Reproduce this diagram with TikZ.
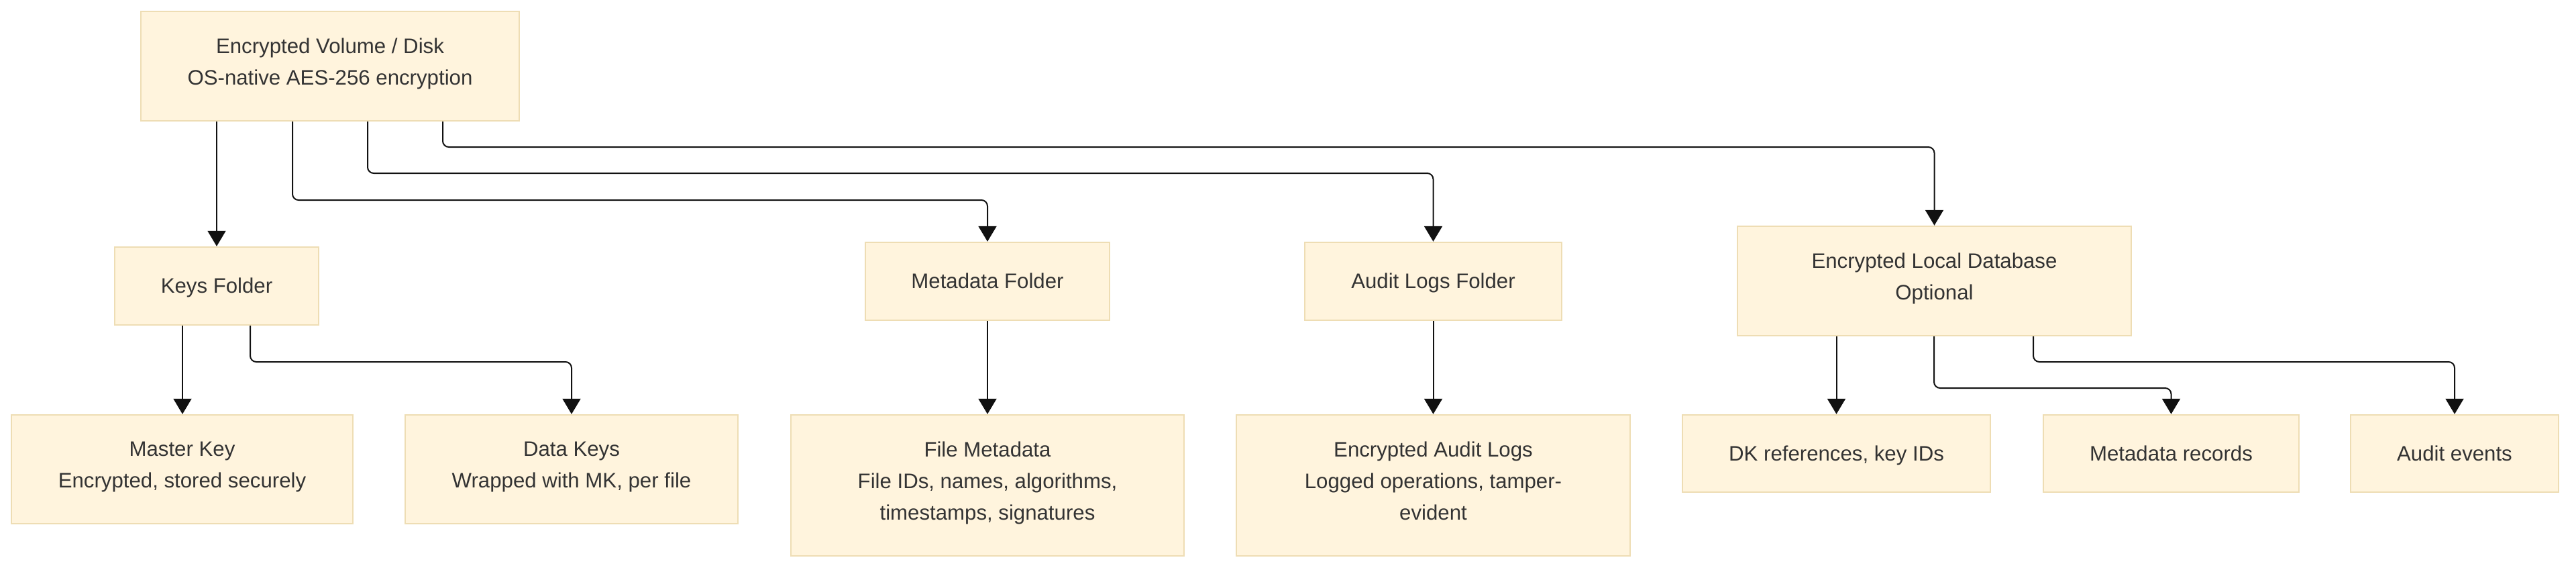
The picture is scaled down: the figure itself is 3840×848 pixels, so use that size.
\documentclass[tikz,border=0pt]{standalone}
\usepackage{fontspec}
\setmainfont{Liberation Sans}
\usetikzlibrary{arrows.meta}
\definecolor{boxfill}{HTML}{FFF4DD}
\definecolor{boxline}{HTML}{EEDDB4}
\definecolor{txt}{HTML}{333333}
\definecolor{edge}{HTML}{111111}
\newcommand\linestrut{\rule[-6.35pt]{0pt}{23.5pt}}
\tikzset{
  box/.style={draw=boxline, fill=boxfill, line width=1.2pt, inner sep=0pt,
    align=center, text=txt, font=\fontsize{15.6pt}{23.5pt}\selectfont,
    execute at begin node=\linestrut, execute at end node=\linestrut},
  arr/.style={draw=edge, line width=1pt, rounded corners=4.5pt,
    -{Triangle[length=11.5pt,width=13.5pt]}},
}
\begin{document}
\begin{tikzpicture}[x=0.5pt,y=-0.5pt]
\useasboundingbox (0,0) rectangle (3840,848);
% first row
\node[box, minimum width=282pt, minimum height=81.5pt] (top) at (492,98.5)
  {Encrypted Volume / Disk\\OS-native AES-256 encryption};
% second row
\node[box, minimum width=152pt, minimum height=58pt] (keys) at (323,426) {Keys Folder};
\node[box, minimum width=182pt, minimum height=58pt] (mfold) at (1472,419) {Metadata Folder};
\node[box, minimum width=191.5pt, minimum height=58pt] (afold) at (2136.5,419) {Audit Logs Folder};
\node[box, minimum width=293.5pt, minimum height=81.5pt] (db) at (2883.5,418.5)
  {Encrypted Local Database\\Optional};
% third row
\node[box, minimum width=254.5pt, minimum height=81pt] (mk) at (271.5,699)
  {Master Key\\Encrypted, stored securely};
\node[box, minimum width=248pt, minimum height=81pt] (dk) at (852,699)
  {Data Keys\\Wrapped with MK, per file};
\node[box, minimum width=293pt, minimum height=105pt] (fm) at (1472,723)
  {File Metadata\\File IDs, names, algorithms,\\timestamps, signatures};
\node[box, minimum width=293.5pt, minimum height=105pt] (al) at (2136.5,723)
  {Encrypted Audit Logs\\Logged operations, tamper-\\evident};
\node[box, minimum width=229.5pt, minimum height=57.5pt] (dkr) at (2737.5,675.5)
  {DK references, key IDs};
\node[box, minimum width=190.5pt, minimum height=57.5pt] (mr) at (3236.5,675.5)
  {Metadata records};
\node[box, minimum width=155pt, minimum height=57.5pt] (ae) at (3659,675.5)
  {Audit events};
% routing points
\coordinate (t2) at (436,298);
\coordinate (t3) at (548,258);
\coordinate (t4) at (660,219);
\coordinate (k1) at (272,500);
\coordinate (k2) at (373,539);
\coordinate (d2) at (2883,578);
\coordinate (d3) at (3031,539);
% connectors
\draw[arr] (top.south -| keys.north) -- (keys.north);
\draw[arr] (top.south -| t2) -- (t2) -| (mfold.north);
\draw[arr] (top.south -| t3) -- (t3) -| (afold.north);
\draw[arr] (top.south -| t4) -- (t4) -| (db.north);
\draw[arr] (keys.south -| k1) -- (mk.north -| k1);
\draw[arr] (keys.south -| k2) -- (k2) -| (dk.north);
\draw[arr] (mfold.south) -- (fm.north);
\draw[arr] (afold.south) -- (al.north);
\draw[arr] (db.south -| dkr.north) -- (dkr.north);
\draw[arr] (db.south -| d2) -- (d2) -| (mr.north);
\draw[arr] (db.south -| d3) -- (d3) -| (ae.north);
\end{tikzpicture}
\end{document}
